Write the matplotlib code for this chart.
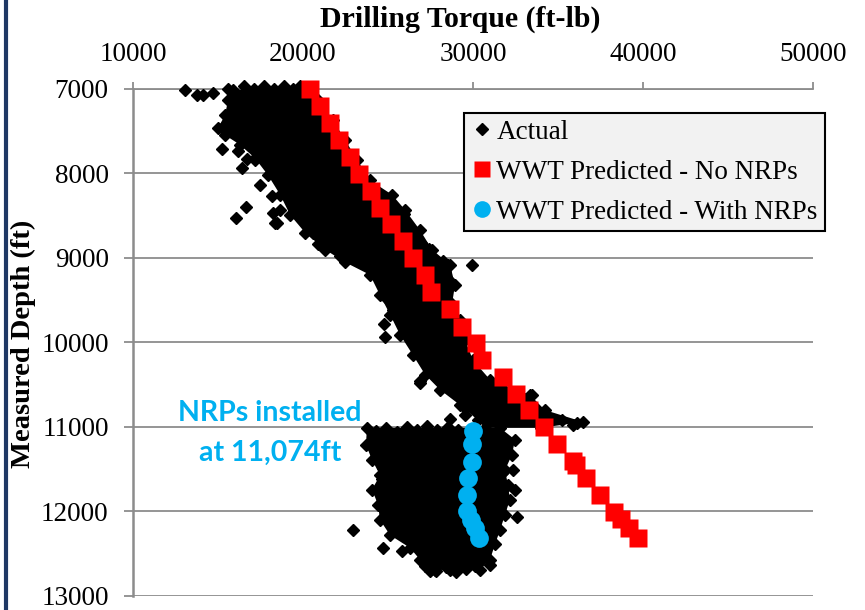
import matplotlib
matplotlib.use("Agg")
import matplotlib.pyplot as plt
from matplotlib.lines import Line2D
import numpy as np

# ---- data (depth in ft, torque in ft-lb) ----
# WWT predicted torque, no NRPs
pred_depth = [7000, 7201, 7402, 7599, 7801, 8002, 8204, 8404, 8603, 8799, 9000, 9201,
              9406, 9604, 9811, 10006, 10207, 10408, 10604, 10799, 11000, 11201, 11402,
              11450, 11604, 11805, 12006, 12089, 12195, 12314]
pred_torque = [20410, 21000, 21560, 22100, 22735, 23320, 23970, 24550, 25190, 25870, 26470,
               27150, 27530, 28620, 29380, 30150, 30500, 31750, 32550, 33320, 34160, 34960,
               35870, 36030, 36620, 37490, 38320, 38680, 39200, 39680]

# WWT predicted torque, with NRPs
nrp_depth = [11044, 11201, 11410, 11607, 11805, 11990, 12101, 12199, 12317]
nrp_torque = [29980, 29940, 29920, 29720, 29630, 29630, 29860, 30120, 30370]

# actual torque: outline of the dense cloud above the NRPs
up_left_depth = [7000, 7130, 7310, 7460, 7545, 7660, 7820, 8020, 8250, 8490, 8700, 8900,
                 9050, 9200, 9440, 9670, 9910, 10150, 10380, 10560, 10740, 10920, 11010]
up_left_torque = [15590, 15590, 15410, 15000, 15410, 16290, 17180, 17940, 18650, 19240,
                  20120, 21290, 22470, 23940, 24530, 25120, 25710, 26470, 27180, 28060,
                  29230, 30290, 30700]
up_right_depth = [7000, 7130, 7370, 7600, 7840, 8080, 8250, 8430, 8670, 8900, 9080, 9320,
                  9550, 9730, 9970, 10210, 10440, 10620, 10800, 10940, 11010]
up_right_torque = [20000, 20880, 21760, 22470, 23180, 23940, 25230, 26000, 26880, 27590,
                   28650, 28940, 28760, 29230, 29530, 30000, 31000, 33350, 34230, 36470, 34000]
up_top_depth = [7010, 6960, 7000, 6965, 7005, 6960, 6995, 6970]
up_top_torque = [15900, 16500, 17100, 17700, 18300, 18900, 19400, 19800]

# actual torque: outline of the cloud below the NRPs
lo_left_depth = [11010, 11210, 11390, 11570, 11740, 11920, 12100, 12280, 12430, 12570, 12690]
lo_left_torque = [23760, 23700, 24060, 24530, 24060, 24410, 24530, 25120, 26290, 26880, 27760]
lo_right_depth = [11010, 11150, 11330, 11510, 11690, 11860, 12040, 12220, 12390, 12570, 12690]
lo_right_torque = [31590, 32470, 32290, 31880, 32060, 32170, 31880, 31590, 31290, 31000, 30410]
lo_top_depth = [11050, 11010, 11060, 11000, 11040, 10990, 11030, 11000, 11040]
lo_top_torque = [24300, 24900, 25500, 26100, 26700, 27300, 27900, 28500, 29100]
lo_bot_depth = [12640, 12710, 12660, 12720, 12680, 12650]
lo_bot_torque = [27200, 27800, 28400, 29000, 29600, 30100]

# actual torque: loose points outside the dense cloud
loose_depth = [7012, 7070, 7070, 7050, 7460, 7710, 7730, 7830, 7840, 7930, 8140, 8270,
               8400, 8530, 8430, 8470, 8190, 8590, 8580, 8710, 8830, 8980, 9460, 9610,
               9780, 9930, 8410, 8480, 8610, 8820, 8890, 9040, 9080, 9160, 9260, 9080,
               10220, 10460, 10620, 10900, 10780, 10920, 10980, 10480, 10860, 10950,
               11210, 11070, 12430, 12470, 12220, 11840, 11720, 11610, 11490, 11390,
               11740, 11510, 11550, 12630, 12690, 12710, 12060]
loose_torque = [13060, 13750, 14120, 14700, 15220, 15220, 16160, 16690, 17180, 16430,
                17470, 18190, 16650, 16040, 18650, 18220, 19130, 18450, 18350, 20600,
                20900, 22180, 24820, 25310, 24760, 24820, 25410, 25940, 26040, 26920,
                27410, 28220, 28550, 28350, 28600, 29920, 29430, 26880, 33450, 28650,
                29530, 35220, 35900, 26880, 29530, 36100, 23940, 24230, 24720, 25800,
                22960, 24720, 24660, 24630, 24720, 24920, 32470, 32370, 31680, 31000,
                28650, 27470, 32570]

x_ticks = [10000, 20000, 30000, 40000, 50000]
y_ticks = [7000, 8000, 9000, 10000, 11000, 12000, 13000]

serif = "Liberation Serif"
grid_c = "#8c8c8c"

fig = plt.figure(figsize=(8.65, 6.1), dpi=100)
ax = fig.add_axes([0.1538, 0.0230, 0.7861, 0.8311])

# dense cloud of actual readings
ax.fill(np.concatenate([up_left_torque, up_right_torque[::-1]]),
        np.concatenate([up_left_depth, up_right_depth[::-1]]),
        color="black", lw=0, zorder=2)
ax.fill(np.concatenate([lo_left_torque, lo_right_torque[::-1]]),
        np.concatenate([lo_left_depth, lo_right_depth[::-1]]),
        color="black", lw=0, zorder=2)
edge_t = (up_left_torque + up_right_torque + up_top_torque + lo_left_torque +
          lo_right_torque + lo_top_torque + lo_bot_torque + loose_torque)
edge_d = (up_left_depth + up_right_depth + up_top_depth + lo_left_depth +
          lo_right_depth + lo_top_depth + lo_bot_depth + loose_depth)
ax.plot(edge_t, edge_d, ls="none", marker="D", ms=6.5, color="black", zorder=3,
        clip_on=False)

ax.plot(pred_torque, pred_depth, ls="none", marker="s", ms=13.5, color="#ff0000",
        mec="none", zorder=4, clip_on=False)
ax.plot(nrp_torque, nrp_depth, ls="none", marker="o", ms=13.5, color="#00b0f0",
        mec="none", zorder=5)

ax.set_xlim(10000, 50000)
ax.set_ylim(13000, 7000)
ax.set_xticks(x_ticks)
ax.set_yticks(y_ticks)
ax.xaxis.tick_top()
ax.xaxis.set_label_position("top")
ax.grid(axis="y", color=grid_c, lw=1.3, zorder=1)
ax.set_axisbelow(True)
for s in ["right", "bottom"]:
    ax.spines[s].set_visible(False)
ax.spines["left"].set_color(grid_c)
ax.spines["left"].set_linewidth(1.8)
ax.spines["top"].set_color(grid_c)
ax.spines["top"].set_linewidth(1.3)
ax.tick_params(axis="y", direction="out", length=6.5, width=1.3, color=grid_c, pad=11,
               labelsize=19.5)
ax.tick_params(axis="x", direction="out", length=5, width=1.3, color=grid_c, pad=11,
               labelsize=19.5)
for lab in ax.get_xticklabels() + ax.get_yticklabels():
    lab.set_family(serif)

fig.text(0.532, 0.968, "Drilling Torque (ft-lb)", ha="center", va="center",
         family=serif, weight="bold", fontsize=21.5)
fig.text(0.027, 0.437, "Measured Depth (ft)", ha="center", va="center", rotation=90,
         family=serif, weight="bold", fontsize=20.5)

ax.text(18060, 10830, "NRPs installed", ha="center", va="center", color="#00b0f0",
        family="Lato", weight="bold", fontsize=20.5, zorder=6)
ax.text(18060, 11310, "at 11,074ft", ha="center", va="center", color="#00b0f0",
        family="Lato", weight="bold", fontsize=20.5, zorder=6)

handles = [
    Line2D([], [], ls="none", marker="D", ms=6.5, color="black"),
    Line2D([], [], ls="none", marker="s", ms=11.5, color="#ff0000", mec="none"),
    Line2D([], [], ls="none", marker="o", ms=12, color="#00b0f0", mec="none"),
]
labels = ["Actual", "WWT Predicted - No NRPs", "WWT Predicted - With NRPs"]
leg = ax.legend(handles, labels, loc="upper left",
                bbox_to_anchor=(464 / 865, 1 - 113 / 610), bbox_transform=fig.transFigure,
                prop={"family": serif, "size": 19.5}, frameon=True, fancybox=False,
                framealpha=1, facecolor="#f2f2f2", edgecolor="black", borderpad=0.25,
                handlelength=0.85, handletextpad=0.1, labelspacing=0.55, borderaxespad=0)
leg.get_frame().set_linewidth(1.5)
leg.set_zorder(10)

# dark page border on the left
fig.add_artist(Line2D([0.0069, 0.0069], [0, 1], transform=fig.transFigure,
                      color="#1f3864", lw=3))

fig.savefig("out.png", dpi=100)
